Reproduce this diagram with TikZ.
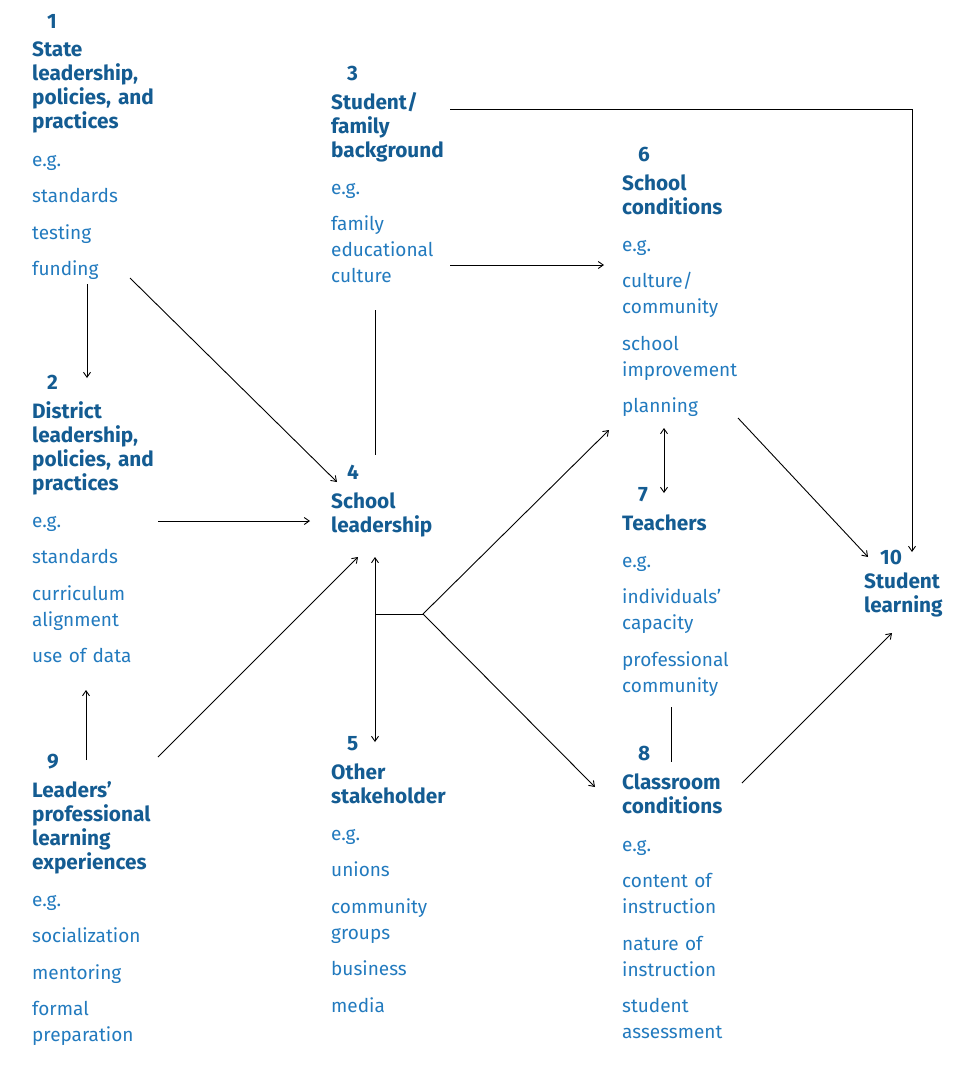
\documentclass[tikz,border=0pt]{standalone}
\usepackage{fontspec}
\setmainfont{Fira Sans}
\usepackage{xcolor}
\usetikzlibrary{arrows.meta}
\definecolor{headblue}{RGB}{20,92,146}
\definecolor{itemblue}{RGB}{34,122,190}

\begin{document}
\begin{tikzpicture}[x=1pt,y=-1pt]
\tikzstyle{num}=[anchor=base west,inner sep=0pt,text=headblue,font=\fontsize{20.8}{24}\selectfont\bfseries]
\tikzstyle{head}=[anchor=base west,inner sep=0pt,text=headblue,text width=160pt,align=left,font=\fontsize{20.8}{24}\selectfont\bfseries]
\tikzstyle{items}=[anchor=base west,inner sep=0pt,text=itemblue,text width=160pt,align=left,font=\fontsize{19}{26}\selectfont]
\tikzstyle{link}=[-{Straight Barb[length=5pt,width=7pt]},line width=0.9pt]
\tikzstyle{twoway}=[{Straight Barb[length=5pt,width=7pt]}-{Straight Barb[length=5pt,width=7pt]},line width=0.9pt]
\tikzstyle{plain}=[line width=0.9pt]

\def\gap{10.5pt}
\useasboundingbox (0,0) rectangle (969,1072);

% 1 state
\node[num] (n1) at (47,28) {1};
\node[head] (h1) at (32,56) {State\\leadership,\\policies, and\\practices};
\node[items] (e1) at (32,166) {e.g.\\[\gap]standards\\[\gap]testing\\[\gap]funding};

% 2 district
\node[num] (n2) at (47,389) {2};
\node[head] (h2) at (32,418) {District\\leadership,\\policies, and\\practices};
\node[items] (e2) at (32,527) {e.g.\\[\gap]standards\\[\gap]curriculum\\alignment\\[\gap]use of data};

% 9 leaders
\node[num] (n9) at (47,768) {9};
\node[head] (h9) at (32,797) {Leaders’\\professional\\learning\\experiences};
\node[items] (e9) at (32,906) {e.g.\\[\gap]socialization\\[\gap]mentoring\\[\gap]formal\\preparation};

% 3 student/family
\node[num] (n3) at (347,80) {3};
\node[head] (h3) at (331,109) {Student/\\family\\background};
\node[items] (e3) at (331,194) {e.g.\\[\gap]family\\educational\\culture};

% 4 school leadership
\node[num] (n4) at (347,479) {4};
\node[head] (h4) at (331,508) {School\\leadership};

% 5 stakeholder
\node[num] (n5) at (347,750) {5};
\node[head] (h5) at (331,779) {Other\\stakeholder};
\node[items] (e5) at (331,840) {e.g.\\[\gap]unions\\[\gap]community\\groups\\[\gap]business\\[\gap]media};

% 6 school conditions
\node[num] (n6) at (638,161) {6};
\node[head] (h6) at (622,190) {School\\conditions};
\node[items] (e6) at (622,251) {e.g.\\[\gap]culture/\\community\\[\gap]school\\improvement\\[\gap]planning};

% 7 teachers
\node[num] (n7) at (638,501) {7};
\node[head] (h7) at (622,530) {Teachers};
\node[items] (e7) at (622,567) {e.g.\\[\gap]individuals’\\capacity\\[\gap]professional\\community};

% 8 classroom
\node[num] (n8) at (638,760) {8};
\node[head] (h8) at (622,789) {Classroom\\conditions};
\node[items] (e8) at (622,851) {e.g.\\[\gap]content of\\instruction\\[\gap]nature of\\instruction\\[\gap]student\\assessment};

% 10 student learning
\node[num] (n10) at (880,564) {10};
\node[head] (h10) at (864,588) {Student\\learning};

% end points
\coordinate (s1a) at (87,284);   \coordinate (s1b) at (87,378);
\coordinate (s1c) at (130,278);  \coordinate (l4a) at (337,482);
\coordinate (d2) at (158,521);   \coordinate (l4b) at (310,521);
\coordinate (p9a) at (86,760);   \coordinate (d2b) at (86,690);
\coordinate (p9b) at (158,757);  \coordinate (l4c) at (358,557);
\coordinate (f3a) at (450,109);  \coordinate (s10a) at (912,552);
\coordinate (f3b) at (450,265);  \coordinate (c6a) at (604,265);
\coordinate (f3c) at (375,310);  \coordinate (l4d) at (375,455);
\coordinate (l4e) at (375,557);  \coordinate (o5) at (375,742);
\coordinate (fork) at (375,614); \coordinate (split) at (423,614);
\coordinate (c6b) at (609,430);  \coordinate (c8a) at (595,787);
\coordinate (c6c) at (664,428);  \coordinate (t7a) at (664,493);
\coordinate (c6d) at (738,418);  \coordinate (s10b) at (868,557);
\coordinate (t7b) at (671,707);  \coordinate (c8b) at (671,762);
\coordinate (c8c) at (742,783);  \coordinate (s10c) at (892,633);

\draw[link] (s1a) -- (s1b);
\draw[link] (s1c) -- (l4a);
\draw[link] (d2) -- (l4b);
\draw[link] (p9a) -- (d2b);
\draw[link] (p9b) -- (l4c);
\draw[link] (f3a) -| (s10a);
\draw[link] (f3b) -- (c6a);
\draw[plain] (f3c) -- (l4d);
\draw[twoway] (l4e) -- (o5);
\draw[plain] (fork) -- (split);
\draw[link] (split) -- (c6b);
\draw[link] (split) -- (c8a);
\draw[twoway] (c6c) -- (t7a);
\draw[link] (c6d) -- (s10b);
\draw[plain] (t7b) -- (c8b);
\draw[link] (c8c) -- (s10c);
\end{tikzpicture}
\end{document}
